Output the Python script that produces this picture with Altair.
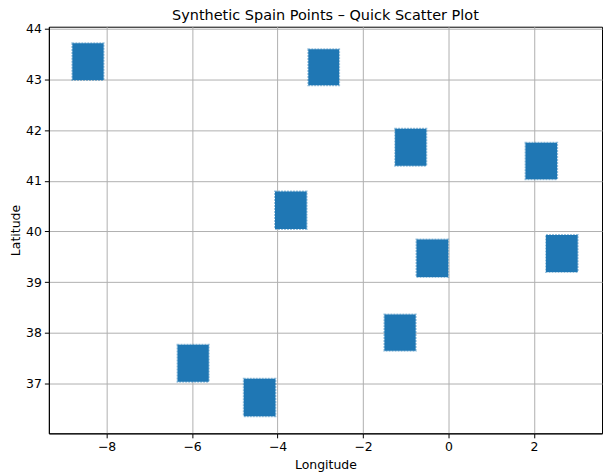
import altair as alt
import pandas as pd

# Cluster extents (longitude / latitude)
lon_min = [-8.80, -3.28, -4.06, -1.25, 1.80, -0.75, 2.28, -6.34, -4.79, -1.50]
lon_max = [-8.07, -2.56, -3.32, -0.52, 2.54, -0.01, 3.02, -5.61, -4.05, -0.77]
lat_min = [42.99, 42.89, 40.05, 41.30, 41.03, 39.10, 39.20, 37.03, 36.35, 37.64]
lat_max = [43.72, 43.60, 40.79, 42.03, 41.75, 39.84, 39.93, 37.76, 37.09, 38.36]

x_ticks = [-8, -6, -4, -2, 0, 2]
y_ticks = [37, 38, 39, 40, 41, 42, 43, 44]
x_domain = [-9.35, 3.59]
y_domain = [36.01, 44.045]

df = pd.DataFrame({"lon0": lon_min, "lon1": lon_max, "lat0": lat_min, "lat1": lat_max})

FONT = "DejaVu Sans"

chart = alt.Chart(df).mark_rect(
    fill="#1f77b4", stroke="#1f77b4", strokeOpacity=0.45, strokeWidth=2, strokeDash=[2, 1]
).encode(
    x=alt.X("lon0:Q", title="Longitude",
            scale=alt.Scale(domain=x_domain, nice=False, zero=False),
            axis=alt.Axis(values=x_ticks, format="d", titlePadding=5)),
    x2="lon1:Q",
    y=alt.Y("lat0:Q", title="Latitude",
            scale=alt.Scale(domain=y_domain, nice=False, zero=False),
            axis=alt.Axis(values=y_ticks, format="d", titlePadding=3)),
    y2="lat1:Q",
).properties(
    width=555, height=408,
    title=alt.Title("Synthetic Spain Points – Quick Scatter Plot", fontSize=14.5,
                    font=FONT, fontWeight="normal", color="black", offset=0),
    autosize=alt.AutoSizeParams(type="none"),
    padding={"left": 41, "top": 18, "right": 5, "bottom": 38},
).configure_view(
    stroke="black", strokeWidth=1
).configure_axis(
    grid=True, gridColor="#b0b0b0", gridWidth=1, gridOpacity=1,
    domainColor="black", domainWidth=1,
    tickColor="black", tickSize=4.5, tickWidth=1,
    labelFont=FONT, labelFontSize=12.5, labelColor="black", labelPadding=3,
    titleFont=FONT, titleFontSize=12.5, titleFontWeight="normal", titleColor="black",
)

chart.save("out.html", embed_options={"renderer": "svg", "actions": False})
